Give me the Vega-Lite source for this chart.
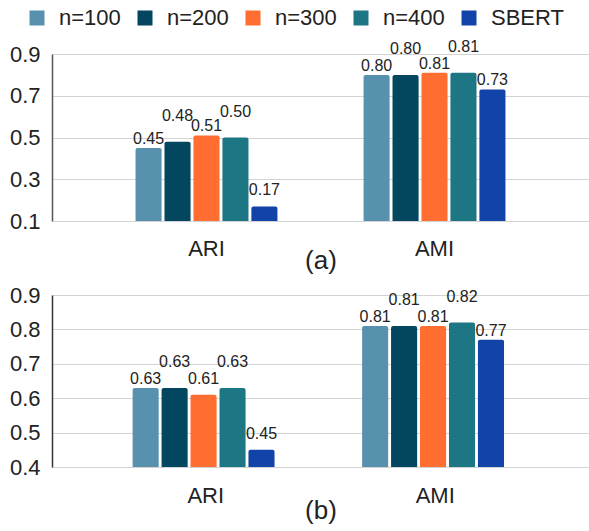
{
  "$schema": "https://vega.github.io/schema/vega-lite/v6.json",
  "padding": {"left": 9, "top": 7, "right": 0, "bottom": 2},
  "background": "white",
  "config": {
    "view": {"stroke": null},
    "font": "Liberation Sans",
    "axis": {"labelFont": "Liberation Sans", "titleFont": "Liberation Sans", "labelColor": "#222222", "titleColor": "#222222"},
    "legend": {"labelFont": "Liberation Sans"}
  },
  "datasets": {
    "scores": [
      {"panel": "a", "metric": "ARI", "series": "n=100", "value": 0.45},
      {"panel": "a", "metric": "ARI", "series": "n=200", "value": 0.48},
      {"panel": "a", "metric": "ARI", "series": "n=300", "value": 0.51},
      {"panel": "a", "metric": "ARI", "series": "n=400", "value": 0.50},
      {"panel": "a", "metric": "ARI", "series": "SBERT", "value": 0.17},
      {"panel": "a", "metric": "AMI", "series": "n=100", "value": 0.80},
      {"panel": "a", "metric": "AMI", "series": "n=200", "value": 0.80},
      {"panel": "a", "metric": "AMI", "series": "n=300", "value": 0.81},
      {"panel": "a", "metric": "AMI", "series": "n=400", "value": 0.81},
      {"panel": "a", "metric": "AMI", "series": "SBERT", "value": 0.73},
      {"panel": "b", "metric": "ARI", "series": "n=100", "value": 0.63},
      {"panel": "b", "metric": "ARI", "series": "n=200", "value": 0.63},
      {"panel": "b", "metric": "ARI", "series": "n=300", "value": 0.61},
      {"panel": "b", "metric": "ARI", "series": "n=400", "value": 0.63},
      {"panel": "b", "metric": "ARI", "series": "SBERT", "value": 0.45},
      {"panel": "b", "metric": "AMI", "series": "n=100", "value": 0.81},
      {"panel": "b", "metric": "AMI", "series": "n=200", "value": 0.81},
      {"panel": "b", "metric": "AMI", "series": "n=300", "value": 0.81},
      {"panel": "b", "metric": "AMI", "series": "n=400", "value": 0.82},
      {"panel": "b", "metric": "AMI", "series": "SBERT", "value": 0.77}
    ]
  },
  "data": {"name": "scores"},
  "spacing": 11,
  "vconcat": [
    {
      "width": 537,
      "height": 167,
      "transform": [{"filter": "datum.panel == 'a'"}],
      "encoding": {
        "x": {"field": "metric", "type": "nominal", "sort": ["ARI", "AMI"],
              "scale": {"paddingInner": 0.365, "paddingOuter": 0.36},
              "axis": {"title": "(a)", "labelAngle": 0, "ticks": false, "domain": false, "labelFontSize": 22, "labelPadding": 17, "titleFontSize": 26, "titleFontWeight": "normal", "titleY": 26}},
        "xOffset": {"field": "series", "type": "nominal", "sort": ["n=100", "n=200", "n=300", "n=400", "SBERT"],
                    "scale": {"paddingInner": 0.1, "paddingOuter": 0.05}},
        "y": {"field": "value", "type": "quantitative",
              "scale": {"domain": [0.1, 0.9], "zero": false, "clamp": true},
              "axis": {"title": null, "values": [0.1, 0.3, 0.5, 0.7, 0.9], "format": ".1f", "ticks": false, "labelFontSize": 22, "labelPadding": 12, "domainColor": "#555555", "domainWidth": 1.5, "gridColor": "#d3d3d3", "gridWidth": 1.2}}
      },
      "layer": [
        {"mark": {"type": "bar", "cornerRadiusTopLeft": 2, "cornerRadiusTopRight": 2},
         "encoding": {"y2": {"datum": 0.1},
           "color": {"field": "series", "type": "nominal", "sort": ["n=100", "n=200", "n=300", "n=400", "SBERT"],
             "scale": {"domain": ["n=100", "n=200", "n=300", "n=400", "SBERT"], "range": ["#5891ae", "#03465f", "#ff6d30", "#1d7684", "#1143a8"]},
             "legend": {"orient": "none", "legendX": -26, "legendY": -47, "direction": "horizontal", "columns": 5, "gridAlign": "all", "title": null, "symbolType": "square", "symbolSize": 225, "symbolStrokeWidth": 0, "labelFontSize": 22, "labelColor": "#222222", "labelOffset": 11, "columnPadding": 2}}}},
        {"transform": [{"filter": "datum.series == 'n=200' || datum.series == 'n=400'"}],
         "mark": {"type": "text", "baseline": "bottom", "dy": -18, "fontSize": 16, "color": "#222222"},
         "encoding": {"text": {"field": "value", "type": "quantitative", "format": ".2f"}}},
        {"transform": [{"filter": "(datum.series != 'n=200' && datum.series != 'n=400') && !(datum.series == 'SBERT' && datum.metric == 'ARI')"}],
         "mark": {"type": "text", "baseline": "bottom", "dy": -1, "fontSize": 16, "color": "#222222"},
         "encoding": {"text": {"field": "value", "type": "quantitative", "format": ".2f"}}},
        {"transform": [{"filter": "datum.series == 'SBERT' && datum.metric == 'ARI'"}],
         "mark": {"type": "text", "baseline": "bottom", "dy": -8, "fontSize": 16, "color": "#222222"},
         "encoding": {"text": {"field": "value", "type": "quantitative", "format": ".2f"}}}
      ]
    },
    {
      "width": 537,
      "height": 172,
      "transform": [{"filter": "datum.panel == 'b'"}],
      "encoding": {
        "x": {"field": "metric", "type": "nominal", "sort": ["ARI", "AMI"],
              "scale": {"paddingInner": 0.35, "paddingOuter": 0.345},
              "axis": {"title": "(b)", "labelAngle": 0, "ticks": false, "domain": false, "labelFontSize": 22, "labelPadding": 18, "titleFontSize": 26, "titleFontWeight": "normal", "titleY": 30}},
        "xOffset": {"field": "series", "type": "nominal", "sort": ["n=100", "n=200", "n=300", "n=400", "SBERT"],
                    "scale": {"paddingInner": 0.1, "paddingOuter": 0.05}},
        "y": {"field": "value", "type": "quantitative",
              "scale": {"domain": [0.4, 0.9], "zero": false, "clamp": true},
              "axis": {"title": null, "values": [0.4, 0.5, 0.6, 0.7, 0.8, 0.9], "format": ".1f", "ticks": false, "labelFontSize": 22, "labelPadding": 12, "domainColor": "#333333", "domainWidth": 1.5, "gridColor": "#d3d3d3", "gridWidth": 1.2}}
      },
      "layer": [
        {"mark": {"type": "bar", "cornerRadiusTopLeft": 2, "cornerRadiusTopRight": 2},
         "encoding": {"y2": {"datum": 0.4},
           "color": {"field": "series", "type": "nominal", "sort": ["n=100", "n=200", "n=300", "n=400", "SBERT"],
             "scale": {"domain": ["n=100", "n=200", "n=300", "n=400", "SBERT"], "range": ["#5891ae", "#03465f", "#ff6d30", "#1d7684", "#1143a8"]},
             "legend": null}}},
        {"transform": [{"filter": "datum.series == 'n=200' || datum.series == 'n=400'"}],
         "mark": {"type": "text", "baseline": "bottom", "dy": -18, "fontSize": 16, "color": "#222222"},
         "encoding": {"text": {"field": "value", "type": "quantitative", "format": ".2f"}}},
        {"transform": [{"filter": "(datum.series != 'n=200' && datum.series != 'n=400') && !(datum.metric == 'ARI' && (datum.series == 'SBERT' || datum.series == 'n=300'))"}],
         "mark": {"type": "text", "baseline": "bottom", "dy": -1, "fontSize": 16, "color": "#222222"},
         "encoding": {"text": {"field": "value", "type": "quantitative", "format": ".2f"}}},
        {"transform": [{"filter": "datum.metric == 'ARI' && (datum.series == 'SBERT' || datum.series == 'n=300')"}],
         "mark": {"type": "text", "baseline": "bottom", "dy": -8, "fontSize": 16, "color": "#222222"},
         "encoding": {"text": {"field": "value", "type": "quantitative", "format": ".2f"}}}
      ]
    }
  ]
}
